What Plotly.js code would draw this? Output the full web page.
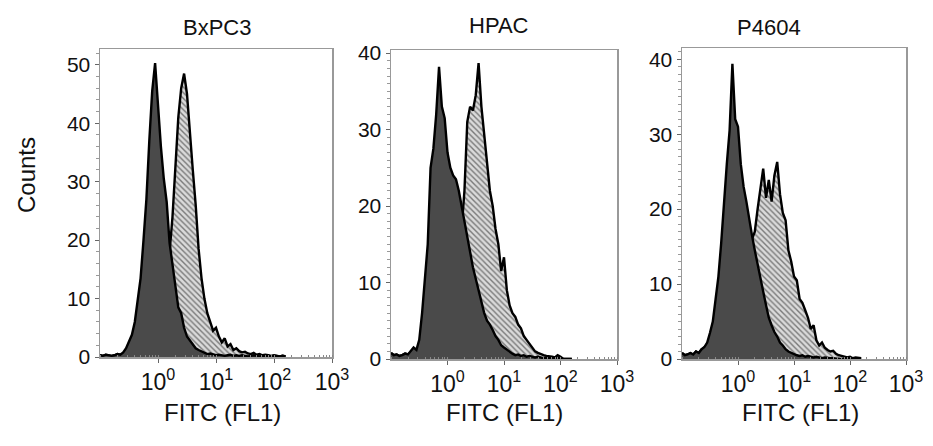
<!DOCTYPE html>
<html>
<head>
<meta charset="utf-8">
<script src="https://cdn.plot.ly/plotly-3.0.1.min.js"></script>
<style>html,body{margin:0;padding:0;background:#fff;}#chart{width:933px;height:446px;}</style>
</head>
<body>
<div id="chart"></div>
<script>
// FITC channel bins, log10 units
const logBins = [-1,-0.95,-0.9,-0.85,-0.8,-0.75,-0.7,-0.65,-0.6,-0.55,
  -0.5,-0.45,-0.4,-0.35,-0.3,-0.25,-0.2,-0.15,-0.1,-0.05,
  0,0.05,0.1,0.15,0.2,0.25,0.3,0.35,0.4,0.45,
  0.5,0.55,0.6,0.65,0.7,0.75,0.8,0.85,0.9,0.95,
  1,1.05,1.1,1.15,1.2,1.25,1.3,1.35,1.4,1.45,
  1.5,1.55,1.6,1.65,1.7,1.75,1.8,1.85,1.9,1.95,
  2,2.05,2.1,2.15,2.2];

const panelTitles = ["BxPC3", "HPAC", "P4604"];
const xTickVals = [1, 10, 100, 1000];
const xTickText = ["10<sup>0</sup>", "10<sup>1</sup>", "10<sup>2</sup>", "10<sup>3</sup>"];

// BxPC3
const bxControl = [0.3,0.2,0.4,0.3,0.2,0.3,0.5,0.4,0.8,1.5,
  2.8,3.8,6,9.5,13.5,20,27,37,45.5,50.3,
  43,36,30.5,26.5,19.5,16,12.5,8.5,7.5,5,
  3.5,2.8,2,1.5,1.2,1,0.8,0.5,0.6,0.4,
  0.3,0.4,0.3,0.2,0.3,0.4,0.2,0.3,0.2,0.3,
  0.2,0.1,0.2,0.3,0.2,0.1,0.2,0.1,0.2,0.1,
  0.2,0.1,0.1,0.2,0.1];
const bxStained = [0.3,0.2,0.4,0.3,0.2,0.3,0.5,0.4,0.6,0.7,
  0.8,1,1.2,1.5,2,2.5,3,3.5,4,5,
  6,8,10.5,14,18,24,33,41,46,48.5,
  45,38,32,26,18.5,13.5,10,7.5,6,4.5,
  5,3.5,2.5,3.2,1.8,2.2,1.2,1.5,1,0.8,
  0.9,0.6,0.5,0.7,0.4,0.5,0.3,0.4,0.3,0.2,
  0.3,0.2,0.1,0.2,0.1];

// HPAC
const hpControl = [0.8,0.5,0.6,0.4,0.5,0.7,0.6,1.0,1.5,1.2,
  2.5,6,10,15,25,27.5,32,38.2,33,31.5,
  27,25,24,23.5,22,20,17.5,16,14,12,
  10.5,9,7.5,6,5,4.5,3.8,3,2.5,1.8,
  1.5,1.2,0.9,0.7,0.5,0.6,0.4,0.5,0.3,0.4,
  0.3,0.2,0.3,0.2,0.1,0.2,0.1,0.1,0.2,0.1,
  0.1,0,0,0,0];
const hpStained = [0.8,0.5,0.6,0.4,0.5,0.7,0.6,0.9,1.2,1.0,
  1.5,2,2.5,3,3.5,4,4.5,5,6,7,
  8,9.5,11,13,15,17,22,31,33,32.5,
  34.5,38.7,33,29,26,22,20,17,15,11.5,
  13.3,9,7,6,5.5,4.5,4,3,2.5,2,
  1.5,1,0.8,0.6,0.5,0.4,0.3,0.3,0.2,0.5,
  0.3,0,0,0,0];

// P4604
const p4Control = [0.8,0.5,0.6,0.8,0.6,1.0,0.8,1.3,1.6,2.2,
  3.5,5,8,11,15.5,21,26,30.5,39.4,32,
  31,26,23,21,18.5,16.5,14.5,12.5,11,9,
  7.2,5.5,4.5,3.6,3,2.2,1.8,1.3,1.0,0.8,
  0.6,0.5,0.4,0.5,0.3,0.4,0.3,0.2,0.3,0.2,
  0.1,0.2,0.1,0.1,0.1,0,0,0,0,0,
  0,0,0,0,0];
const p4Stained = [0.8,0.5,0.6,0.8,0.6,1.0,0.8,1.3,1.5,2,
  2.5,3,3.5,4,4.5,5,5.5,6,7,8,
  9,10.5,12,13.5,15,16,17,20,22.5,25.4,
  21.5,23.9,21,24.5,26.3,22,19.5,18.5,14.5,13,
  11,10.5,8,7.5,6.5,5.5,4,4.5,2.5,1.8,
  2.2,1.5,1.2,1,1.1,0.7,0.5,0.4,0.3,0.2,
  0.3,0.1,0.2,0.1,0.1];

const controls = [bxControl, hpControl, p4Control];
const stained = [bxStained, hpStained, p4Stained];
const yMax = [52.7, 40.4, 41.5];
const yTicks = [[0,10,20,30,40,50],[0,10,20,30,40],[0,10,20,30,40]];
const yMinor = [2, 1, 1];

const W = 933, H = 446;
const xDom = [[100/W, 332/W],[391/W, 617/W],[682/W, 906/W]];
const yDom = [[1-357/H, 1-49/H],[1-359/H, 1-50/H],[1-359/H, 1-48/H]];

const xs = logBins.map(v => Math.pow(10, v));
const FONT = "Liberation Sans, Arial, sans-serif";

const traces = [];
const layout = {
  width: W, height: H,
  margin: {l:0, r:0, t:0, b:0},
  paper_bgcolor: "#fff", plot_bgcolor: "#fff",
  showlegend: false,
  font: {family: FONT, color: "#111"},
  annotations: []
};

for (let p = 0; p < 3; p++) {
  const sfx = p === 0 ? "" : String(p + 1);
  const xa = "x" + sfx, ya = "y" + sfx;
  traces.push({
    x: xs, y: stained[p], xaxis: xa, yaxis: ya,
    type: "scatter", mode: "lines", fill: "tozeroy",
    line: {color: "#000", width: 2.4},
    fillcolor: "#d4d4d4",
    fillpattern: {shape: "\\", bgcolor: "#dadada", fgcolor: "#7a7a7a", size: 4, solidity: 0.35},
    hoverinfo: "skip"
  });
  traces.push({
    x: xs, y: controls[p], xaxis: xa, yaxis: ya,
    type: "scatter", mode: "lines", fill: "tozeroy",
    line: {color: "#000", width: 2.4},
    fillcolor: "#4a4a4a",
    hoverinfo: "skip"
  });
  layout["xaxis" + sfx] = {
    type: "log", range: [-1, 3], domain: xDom[p], anchor: ya,
    tickvals: xTickVals, ticktext: xTickText,
    ticks: "outside", ticklen: 4, tickcolor: "#666", tickwidth: 1,
    minor: {ticks: "inside", ticklen: 2.5, tickcolor: "#888", dtick: "D1"},
    showline: true, mirror: true, linecolor: "#999", linewidth: 1.5,
    showgrid: false, zeroline: false,
    tickfont: {family: FONT, size: 23, color: "#111"}, fixedrange: true
  };
  layout["yaxis" + sfx] = {
    range: [0, yMax[p]], domain: yDom[p], anchor: xa,
    tickvals: yTicks[p],
    ticks: "outside", ticklen: 4, tickcolor: "#666", tickwidth: 1,
    minor: {ticks: "outside", ticklen: 2.5, tickcolor: "#999", dtick: yMinor[p]},
    showline: true, mirror: true, linecolor: "#999", linewidth: 1.5,
    showgrid: false, zeroline: false,
    tickfont: {family: FONT, size: 21, color: "#111"}, fixedrange: true
  };
}

const titleX = [217, 499, 769];
const titleY = [28, 26, 28];
const fitcX = [222, 504, 800];
for (let p = 0; p < 3; p++) {
  layout.annotations.push({
    text: panelTitles[p], xref: "paper", yref: "paper",
    x: titleX[p]/W, y: 1 - titleY[p]/H, xanchor: "center", yanchor: "middle",
    showarrow: false, font: {family: FONT, size: 22, color: "#111"}
  });
  layout.annotations.push({
    text: "FITC (FL1)", xref: "paper", yref: "paper",
    x: fitcX[p]/W, y: 1 - 412/H, xanchor: "center", yanchor: "middle",
    showarrow: false, font: {family: FONT, size: 24, color: "#111"}
  });
}
layout.annotations.push({
  text: "Counts", xref: "paper", yref: "paper",
  x: 26/W, y: 1 - 175/H, xanchor: "center", yanchor: "middle", textangle: -90,
  showarrow: false, font: {family: FONT, size: 24, color: "#111"}
});

Plotly.newPlot("chart", traces, layout, {displayModeBar: false, staticPlot: true});
</script>
</body>
</html>
